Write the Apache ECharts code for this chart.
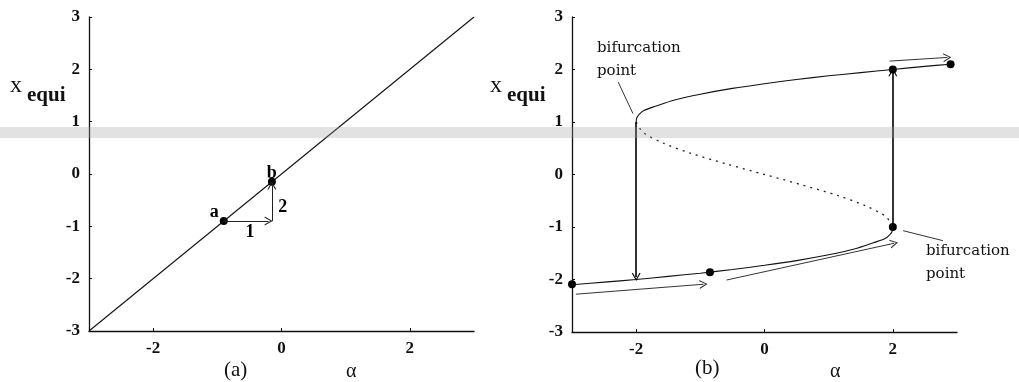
<!DOCTYPE html>
<html>
<head>
<meta charset="utf-8">
<script src="https://cdn.jsdelivr.net/npm/echarts@6/dist/echarts.min.js"></script>
<style>
  html, body { margin: 0; padding: 0; background: #fff; }
  #chart { width: 1019px; height: 382px; }
</style>
</head>
<body>
<div id="chart"></div>
<script>
// ---- data ----
const yTicks = [-3, -2, -1, 0, 1, 2, 3];
const xTicks = [-2, 0, 2];

// panel (a)
const diagonal = [[-3, -3], [3, 3]];
const pointsA = [[-0.9, -0.9], [-0.15, -0.15]];
const arrowsA = [
  [[-0.9, -0.9], [-0.2, -0.9]],
  [[-0.15, -0.9], [-0.15, -0.22]]
];
const labelsA = [[-1.05, -0.73, "a"], [-0.15, 0.02, "b"], [-0.49, -1.11, "1"], [0.02, -0.63, "2"]];

// panel (b)
const upperBranch = [[-2, 1.0], [-1.99, 1.08], [-1.95, 1.15], [-1.88, 1.22], [-1.7, 1.3], [-1.4, 1.42], [-1, 1.53],
  [-0.5, 1.64], [0, 1.73], [0.5, 1.81], [1, 1.88], [1.5, 1.94], [2, 2.0], [2.5, 2.06], [2.9, 2.1]];
const lowerBranch = [[-3, -2.1], [-2.5, -2.05], [-2, -2.0], [-1.5, -1.94], [-1, -1.88], [-0.5, -1.81],
  [0, -1.73], [0.5, -1.64], [1, -1.53], [1.4, -1.42], [1.7, -1.3], [1.88, -1.22], [1.95, -1.15], [1.99, -1.08], [2, -1.0]];
const middleBranch = [[-2, 1.0], [-1.89, 0.8], [-1.58, 0.6], [-1.14, 0.4], [-0.59, 0.2], [0, 0],
  [0.59, -0.2], [1.14, -0.4], [1.58, -0.6], [1.89, -0.8], [2, -1.0]];
const pointsB = [[-3, -2.09], [-0.85, -1.86], [2, -1.0], [2, 2.0], [2.9, 2.1]];
const jumpArrows = [
  [[-2, 1.0], [-2, -1.95]],
  [[2, -1.0], [2, 1.95]]
];
const flowArrows = [
  [[-2.94, -2.28], [-0.95, -2.09]],
  [[-0.59, -2.01], [2.02, -1.31]],
  [[1.95, 2.16], [2.85, 2.23]]
];
const pointerTop = [[-2.28, 1.76], [-2.05, 1.16]];
const pointerBottom = [[2.16, -1.07], [2.78, -1.26]];

// ---- chart ----
const chart = echarts.init(document.getElementById("chart"));

const serif = "Liberation Serif";
const openHead = "path://M0,10 L5,0 L10,10 L8.6,10 L5,2.6 L1.4,10 Z";

// eje de valores comun a los dos paneles
const makeX = (gridIndex) => ({
  type: "value", gridIndex, min: -3, max: 3, interval: 1,
  axisLine: { onZero: false, lineStyle: { color: "#111", width: 1.3 } },
  axisTick: { show: true, inside: true, length: 3, customValues: xTicks, lineStyle: { color: "#111" } },
  axisLabel: { customValues: xTicks, margin: 9, color: "#111", fontFamily: serif, fontWeight: "bold", fontSize: 17 },
  splitLine: { show: false }
});
const makeY = (gridIndex) => ({
  type: "value", gridIndex, min: -3, max: 3, interval: 1,
  axisLine: { show: true, onZero: false, lineStyle: { color: "#111", width: 1.3 } },
  axisTick: { show: true, inside: true, length: 3, customValues: yTicks, lineStyle: { color: "#111" } },
  axisLabel: { customValues: yTicks, margin: 9, color: "#111", fontFamily: serif, fontWeight: "bold", fontSize: 17 },
  splitLine: { show: false }
});

const arrowMarks = (pairs, style) => ({
  silent: true,
  symbol: ["none", openHead],
  symbolSize: [9, 8],
  label: { show: false },
  lineStyle: Object.assign({ color: "#222", width: 1, type: "solid" }, style),
  data: pairs.map(p => [{ coord: p[0] }, { coord: p[1] }])
});

const dots = (gridIndex, data) => ({
  type: "scatter", xAxisIndex: gridIndex, yAxisIndex: gridIndex, data,
  symbolSize: 8, silent: true, itemStyle: { color: "#000", opacity: 1 }
});

const textLabels = (gridIndex, data, size) => ({
  type: "scatter", xAxisIndex: gridIndex, yAxisIndex: gridIndex,
  data, symbolSize: 0, silent: true, itemStyle: { opacity: 1 },
  label: { show: true, position: [0, 0], align: "center", verticalAlign: "middle",
    formatter: p => p.value[2], textBorderWidth: 0,
    color: "#000", fontFamily: serif, fontWeight: "bold", fontSize: size }
});

const axisTitle = (left, top) => ({
  type: "group", left, top,
  children: [
    { type: "text", x: 0, y: 0, style: { text: "x", font: "24px " + serif, fill: "#111" } },
    { type: "text", x: 17, y: 11, style: { text: "equi", font: "bold 21px " + serif, fill: "#111" } }
  ]
});
const freeText = (x, y, text, font, lineHeight) => ({
  type: "text", x, y, style: { text, font, fill: "#111", lineHeight }
});

const option = {
  animation: false,
  grid: [
    { left: 89, top: 17, width: 385, height: 314 },
    { left: 572, top: 17, width: 385, height: 315 }
  ],
  xAxis: [makeX(0), makeX(1)],
  yAxis: [makeY(0), makeY(1)],
  series: [
    // (a)
    {
      type: "line", xAxisIndex: 0, yAxisIndex: 0, data: diagonal, symbol: "none",
      lineStyle: { color: "#111", width: 1.1 },
      markLine: arrowMarks(arrowsA, {})
    },
    dots(0, pointsA),
    textLabels(0, labelsA, 18),
    // (b)
    {
      type: "line", xAxisIndex: 1, yAxisIndex: 1, data: upperBranch, symbol: "none", smooth: 0.3,
      lineStyle: { color: "#111", width: 1.1 },
      markLine: arrowMarks(jumpArrows, { width: 1.6, color: "#000" })
    },
    {
      type: "line", xAxisIndex: 1, yAxisIndex: 1, data: lowerBranch, symbol: "none", smooth: 0.3,
      lineStyle: { color: "#111", width: 1.1 },
      markLine: arrowMarks(flowArrows, { width: 1, color: "#333" })
    },
    {
      type: "line", xAxisIndex: 1, yAxisIndex: 1, data: middleBranch, symbol: "none", smooth: 0.3,
      lineStyle: { color: "#222", width: 1.3, type: [2, 5] }
    },
    {
      type: "line", xAxisIndex: 1, yAxisIndex: 1, data: pointerTop, symbol: "none",
      lineStyle: { color: "#333", width: 1 }
    },
    {
      type: "line", xAxisIndex: 1, yAxisIndex: 1, data: pointerBottom, symbol: "none",
      lineStyle: { color: "#333", width: 1 }
    },
    dots(1, pointsB)
  ],
  graphic: [
    axisTitle(10, 74),
    axisTitle(490, 74),
    freeText(224, 360, "(a)", "21px " + serif),
    freeText(346, 362, "\u03b1", "20px " + serif),
    freeText(695, 358, "(b)", "21px " + serif),
    freeText(830, 362, "\u03b1", "20px " + serif),
    freeText(597, 37, "bifurcation\npoint", "15px DejaVu Serif", 23),
    freeText(926, 240, "bifurcation\npoint", "15px DejaVu Serif", 23),
    // banda gris del escaneo
    { type: "rect", left: 0, top: 127, z: 100, silent: true,
      shape: { width: 1019, height: 11 }, style: { fill: "rgba(160,160,160,0.3)" } }
  ]
};

chart.setOption(option);
window.addEventListener("resize", () => chart.resize());
</script>
</body>
</html>
